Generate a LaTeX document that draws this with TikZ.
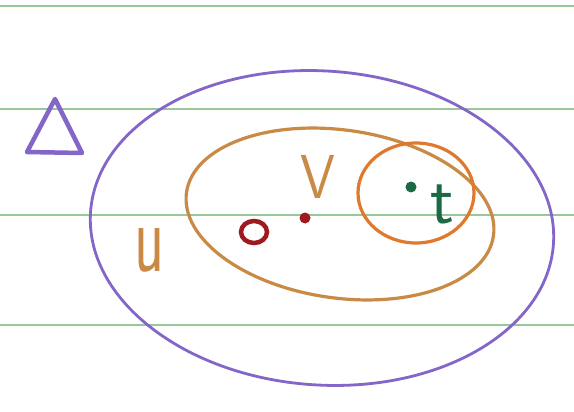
\documentclass[tikz,border=0pt]{standalone}
\usepackage{fontspec}
\usepackage{tikz}
\definecolor{paperline}{HTML}{98C89A}
\definecolor{purp}{HTML}{8465C8}
\definecolor{tan}{HTML}{C98A45}
\definecolor{orng}{HTML}{E0782E}
\definecolor{dred}{HTML}{9E1A1E}
\definecolor{dgreen}{HTML}{1C6A45}
\tikzset{
  ruled/.style={paperline, line width=1.6pt},
  pen/.style={line width=3pt, line cap=round, line join=round},
  hand/.style={inner sep=0pt},
  dot/.style={circle, minimum size=11pt, inner sep=0pt}
}
\begin{document}
\begin{tikzpicture}[x=1pt,y=-1pt]
\useasboundingbox (0,0) rectangle (574,412);
\fill[white] (0,0) rectangle (574,412);
% ruled paper lines
\coordinate (l1a) at (0,6); \coordinate (l1b) at (574,6);
\coordinate (l2a) at (0,109); \coordinate (l2b) at (574,109);
\coordinate (l3a) at (0,215); \coordinate (l3b) at (574,215);
\coordinate (l4a) at (0,325); \coordinate (l4b) at (574,325);
\draw[ruled] (l1a) -- (l1b);
\draw[ruled] (l2a) -- (l2b);
\draw[ruled] (l3a) -- (l3b);
\draw[ruled] (l4a) -- (l4b);
% triangle
\coordinate (ta) at (55,99);
\coordinate (tb) at (27,152);
\coordinate (tc) at (82,153);
\draw[pen, purp, line width=4.5pt] (ta) -- (tb) -- (tc) -- cycle;
% big purple ellipse
\draw[purp, line width=2.8pt, rotate around={-4:(322,228)}] (322,228) ellipse [x radius=232, y radius=157];
% tan ellipse
\draw[tan, line width=3.2pt, rotate around={-8:(340,214)}] (340,214) ellipse [x radius=155, y radius=84];
% inner orange circle
\draw[orng, line width=3.2pt] (416,193) ellipse [x radius=58, y radius=50];
% points
\draw[dred, line width=4.5pt] (254,232) ellipse [x radius=13, y radius=11];
\node[dot, fill=dred] (v) at (305,218) {};
\node[dot, fill=dgreen] (tdot) at (411,187) {};
% labels
\node[hand, tan, font=\sffamily\fontsize{100}{100}\selectfont, xscale=0.62] (U) at (150,250) {u};
\node[hand, tan, font=\sffamily\fontsize{62}{62}\selectfont, xscale=0.9] (V) at (318,177) {V};
\node[hand, dgreen, font=\sffamily\fontsize{70}{70}\selectfont] (T) at (442,204) {t};
\end{tikzpicture}
\end{document}
